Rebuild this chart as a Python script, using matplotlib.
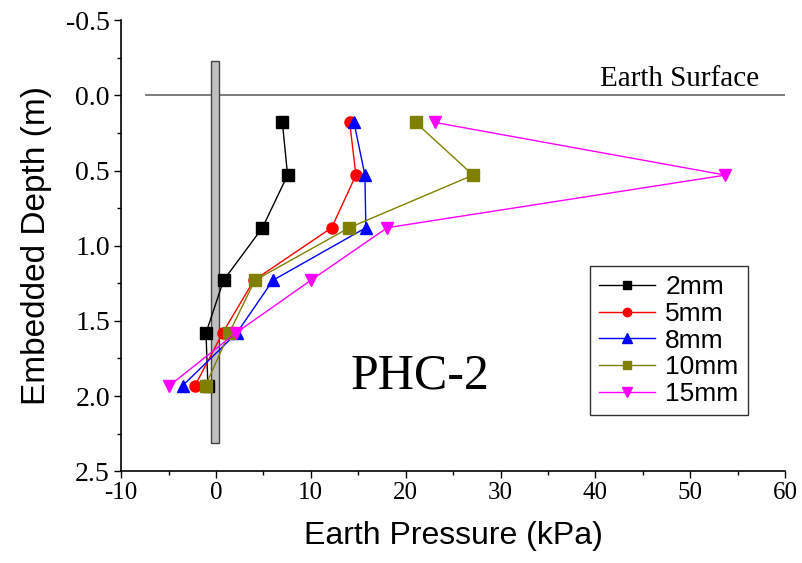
import matplotlib.pyplot as plt
from matplotlib.patches import Rectangle

plt.rcParams["axes.unicode_minus"] = False

# depth of the pressure cells (m)
depth = [0.18, 0.53, 0.88, 1.23, 1.58, 1.93]

# earth pressure (kPa) for each displacement
p_2mm = [7.0, 7.55, 4.9, 0.8, -1.05, -0.85]
p_5mm = [14.1, 14.75, 12.2, 4.0, 0.7, -2.2]
p_8mm = [14.55, 15.7, 15.8, 6.0, 2.2, -3.5]
p_10mm = [21.05, 27.1, 14.05, 4.1, 1.4, -1.1]
p_15mm = [23.1, 53.7, 18.05, 10.0, 2.1, -4.9]

labels = ["2mm", "5mm", "8mm", "10mm", "15mm"]
series = [p_2mm, p_5mm, p_8mm, p_10mm, p_15mm]
colors = ["black", "red", "blue", "#808000", "magenta"]
markers = ["s", "o", "^", "s", "v"]

# pile outline (kPa, m)
pile_x0, pile_x1 = -0.5, 0.3
pile_top, pile_bot = -0.23, 2.31

serif = "Liberation Serif"
sans = "Liberation Sans"

fig = plt.figure(figsize=(8.02, 5.63), dpi=100)
ax = fig.add_axes([0.151, 0.163, 0.828, 0.801])

ax.add_patch(Rectangle((pile_x0, pile_top), pile_x1 - pile_x0, pile_bot - pile_top,
                       facecolor="#c0c0c0", edgecolor="#444444", linewidth=1.0, zorder=3))

ax.plot([-7.4, 60], [0, 0], color="#666666", linewidth=1.2, zorder=1)
ax.text(57.3, -0.06, "Earth Surface", family=serif, fontsize=21, ha="right", va="baseline")

for vals, lab, c, m in zip(series, labels, colors, markers):
    ax.plot(vals, depth, color=c, linewidth=1.0, marker=m,
            markersize=9 if m in ("^", "v") else 8,
            markerfacecolor=c, markeredgecolor=c, label=lab, zorder=4)

ax.text(21.5, 1.95, "PHC-2", family=serif, fontsize=36, ha="center", va="baseline")

ax.set_xlim(-10, 60)
ax.set_ylim(2.5, -0.5)
ax.set_xticks(range(-10, 61, 10))
ax.set_xticks(range(-5, 60, 10), minor=True)
ax.set_yticks([-0.5, 0.0, 0.5, 1.0, 1.5, 2.0, 2.5])
ax.set_yticklabels(["-0.5", "0.0", "0.5", "1.0", "1.5", "2.0", "2.5"])
ax.set_yticks([-0.25, 0.25, 0.75, 1.25, 1.75, 2.25], minor=True)
ax.tick_params(which="major", direction="out", length=5, width=1, labelsize=18, pad=3)
ax.tick_params(axis="y", which="major", labelsize=20)
ax.tick_params(which="minor", direction="out", length=3, width=1)
for lbl in ax.get_xticklabels() + ax.get_yticklabels():
    lbl.set_family(serif)

ax.spines["top"].set_visible(False)
ax.spines["right"].set_visible(False)
ax.spines["left"].set_linewidth(1.2)
ax.spines["bottom"].set_linewidth(1.2)

ax.set_xlabel("Earth Pressure (kPa)", family=sans, fontsize=23, labelpad=12)
ax.set_ylabel("Embedded Depth (m)", family=sans, fontsize=24, labelpad=10)

leg = ax.legend(loc="upper left", bbox_to_anchor=(0.706, 0.455), prop={"family": sans, "size": 19},
                frameon=True, fancybox=False, edgecolor="black", handlelength=2.1,
                labelspacing=0.1, borderpad=0.35, handletextpad=0.4, borderaxespad=0,
                markerscale=0.75)
leg.get_frame().set_linewidth(1.0)

fig.savefig("out.png", dpi=100)
